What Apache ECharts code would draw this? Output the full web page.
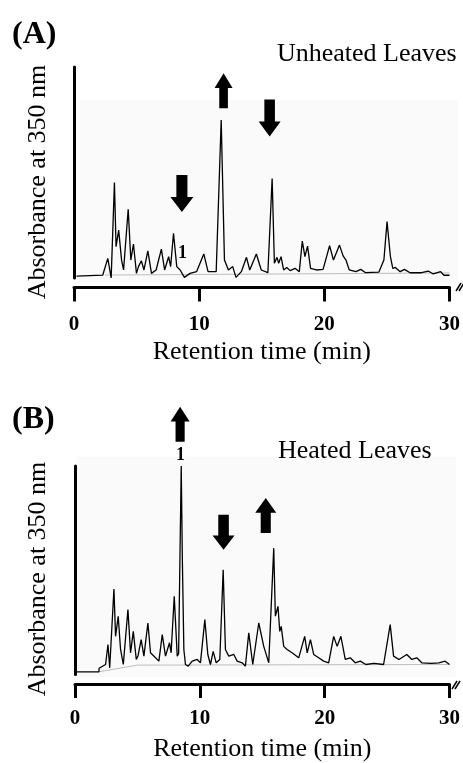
<!DOCTYPE html>
<html>
<head>
<meta charset="utf-8">
<script src="https://cdn.jsdelivr.net/npm/echarts@6/dist/echarts.min.js"></script>
<style>
html,body{margin:0;padding:0;background:#fff;}
#chart{width:463px;height:763px;}
</style>
</head>
<body>
<div id="chart"></div>
<script>
// ---- Data (time in min, absorbance in arbitrary units 0-100) ----
const xTicks = [0, 10, 20, 30];

// Panel A: Unheated Leaves
const timeA = [0.2, 2.3, 2.7, 2.97, 3.23, 3.36, 3.57, 3.8, 3.96, 4.33, 4.54, 4.75, 4.99, 5.15, 5.38, 5.59, 5.9, 6.19, 6.56, 6.98, 7.24, 7.56, 7.72, 7.95, 8.21, 8.48, 8.82, 9.27, 9.79, 10.37, 10.71, 11.36, 11.76, 12.02, 12.34, 12.68, 12.94, 13.37, 13.78, 14.04, 14.57, 14.96, 15.49, 15.83, 16.01, 16.22, 16.35, 16.54, 16.75, 17.0, 17.27, 17.66, 18.0, 18.24, 18.45, 18.66, 18.9, 19.37, 19.9, 20.42, 20.73, 21.21, 21.5, 21.73, 21.99, 22.52, 22.91, 23.3, 24.36, 24.76, 25.01, 25.28, 25.47, 25.67, 26.06, 26.4, 26.85, 27.77, 28.3, 28.7, 29.29, 29.55, 30.0];
const absA  = [0.9, 1.4, 9.3, 0.0, 45.2, 14.8, 22.7, 8.5, 3.8, 32.6, 8.5, 16.1, 2.2, 5.4, 8.2, 3.8, 12.9, 2.2, 3.8, 13.7, 3.8, 10.1, 5.4, 21.2, 5.4, 3.8, 0.3, 2.2, 3.0, 11.4, 3.0, 3.0, 74.9, 8.5, 3.8, 5.4, 0.3, 3.0, 9.8, 3.8, 11.4, 3.8, 2.5, 47.2, 7.0, 9.8, 7.0, 10.1, 3.8, 5.0, 3.5, 4.6, 3.0, 17.5, 10.1, 15.1, 4.6, 3.8, 4.1, 15.3, 8.5, 15.6, 10.5, 8.5, 3.8, 3.0, 4.1, 2.5, 2.8, 8.5, 26.7, 10.1, 4.6, 5.0, 3.0, 4.1, 2.5, 2.5, 3.3, 1.9, 3.0, 1.3, 1.3];
const baseTimeA = [2.5, 30];
const baseAbsA  = [1.4, 2.4];
const arrowTimeA = [8.62, 11.95, 15.63];
const arrowAbsA  = [40, 88.7, 75.8];
const arrowDirA  = ['down', 'up', 'down'];
const peakLabelA = {name: '1', time: 8.66, abs: 11.6};

// Panel B: Heated Leaves
const timeB = [0.16, 1.92, 1.93, 2.45, 2.64, 2.78, 3.12, 3.25, 3.46, 3.65, 3.87, 4.24, 4.45, 4.67, 4.91, 5.05, 5.3, 5.52, 5.84, 6.05, 6.45, 6.72, 6.99, 7.25, 7.57, 7.7, 7.95, 8.19, 8.3, 8.51, 8.6, 8.72, 8.85, 9.07, 9.39, 9.79, 10.05, 10.4, 10.64, 10.85, 11.07, 11.31, 11.6, 11.87, 12.05, 12.32, 12.72, 12.99, 13.39, 13.65, 13.92, 14.24, 14.72, 15.12, 15.52, 15.92, 16.05, 16.26, 16.4, 16.52, 16.72, 16.99, 17.39, 17.92, 18.4, 18.6, 18.86, 19.12, 19.52, 19.92, 20.32, 20.72, 21.0, 21.3, 21.65, 22.05, 22.45, 22.85, 23.3, 23.95, 24.72, 25.25, 25.52, 25.95, 26.58, 26.98, 27.38, 27.78, 28.55, 29.15, 29.65, 30.0];
const absB  = [1.3, 1.3, 3.0, 4.8, 14.4, 3.2, 41.0, 18.3, 27.9, 12.0, 4.8, 31.1, 10.4, 20.7, 7.2, 9.0, 16.7, 8.8, 24.7, 10.4, 8.0, 6.4, 19.1, 8.8, 15.2, 10.4, 37.5, 8.8, 10.0, 100, 55, 12.0, 4.8, 4.0, 6.4, 7.2, 5.6, 26.3, 9.6, 4.8, 11.1, 5.6, 7.2, 50.2, 12.0, 8.8, 9.6, 6.4, 5.6, 4.0, 20.0, 4.8, 24.7, 13.5, 5.6, 60.6, 28.0, 32.7, 20.7, 23.1, 13.5, 12.0, 10.4, 8.0, 18.3, 10.4, 16.7, 9.6, 8.0, 6.4, 5.6, 18.3, 13.5, 18.3, 7.2, 8.0, 5.6, 6.4, 4.8, 5.3, 4.8, 23.9, 8.8, 7.2, 9.6, 7.2, 8.0, 5.6, 5.3, 5.6, 6.4, 4.8];
const baseTimeB = [1.92, 5.0, 30];
const baseAbsB  = [1.3, 4.5, 4.8];
const arrowTimeB = [8.42, 11.9, 15.28];
const arrowAbsB  = [120, 68.2, 76.2];
const arrowDirB  = ['up', 'down', 'up'];
const peakLabelB = {name: '1', time: 8.45, abs: 104.9};

const panelTitles = ['(A)', '(B)'];
const sampleNames = ['Unheated Leaves', 'Heated Leaves'];
const yTitle = 'Absorbance at 350 nm';
const xTitle = 'Retention time (min)';

// ---- helpers ----
const SERIF = '"Liberation Serif", "DejaVu Serif", serif';
const UP = 'path://M5 0 L10 4.2 L7.4 4.2 L7.4 10 L2.6 10 L2.6 4.2 L0 4.2 Z';
const DOWN = 'path://M2.6 0 L7.4 0 L7.4 5.9 L10 5.9 L5 10 L0 5.9 L2.6 5.9 Z';
const zip = (a, b) => a.map((v, i) => [v, b[i]]);

function xAxisFor(idx, margin) {
  return {
    gridIndex: idx, type: 'value', min: 0, max: 30, interval: 10, offset: 9.5,
    axisLine: {show: true, onZero: false, lineStyle: {color: '#000', width: 3}},
    axisTick: {show: true, length: 14, lineStyle: {color: '#000', width: 3}},
    axisLabel: {margin: margin, color: '#000', fontFamily: SERIF, fontWeight: 'bold', fontSize: 21,
      formatter: v => xTicks.includes(v) ? String(v) : ''},
    splitLine: {show: false},
    name: xTitle, nameLocation: 'middle', nameGap: 52,
    nameTextStyle: {color: '#000', fontFamily: SERIF, fontSize: 26}
  };
}
function yAxisFor(idx) {
  return {
    gridIndex: idx, type: 'value', min: 0, max: 100,
    axisLine: {show: true, onZero: false, lineStyle: {color: '#000', width: 3}},
    axisTick: {show: false}, axisLabel: {show: false}, splitLine: {show: false}
  };
}
function traceSeries(idx, t, v) {
  return {type: 'line', xAxisIndex: idx, yAxisIndex: idx, data: zip(t, v), showSymbol: false,
    symbol: 'none', lineStyle: {color: '#000', width: 1.3}, z: 3, silent: true};
}
function baseSeries(idx, t, v) {
  return {type: 'line', xAxisIndex: idx, yAxisIndex: idx, data: zip(t, v), showSymbol: false,
    symbol: 'none', lineStyle: {color: '#bdbdbd', width: 1}, z: 2, silent: true};
}
function arrowSeries(idx, t, v, dirs, sizes) {
  return {type: 'scatter', xAxisIndex: idx, yAxisIndex: idx, clip: false, z: 5, silent: true,
    data: t.map((x, i) => ({value: [x, v[i]], symbol: dirs[i] === 'up' ? UP : DOWN,
      symbolSize: sizes[i], itemStyle: {color: '#000', opacity: 1}})),
    itemStyle: {color: '#000', opacity: 1},
    symbolKeepAspect: false};
}
function labelSeries(idx, lab) {
  return {type: 'scatter', xAxisIndex: idx, yAxisIndex: idx, clip: false, z: 6, silent: true,
    symbolSize: 1, itemStyle: {color: 'rgba(0,0,0,0)', opacity: 1},
    data: [{value: [lab.time, lab.abs], name: lab.name}],
    label: {show: true, position: 'inside', formatter: '{b}', color: '#000', opacity: 1,
      fontFamily: SERIF, fontWeight: 'bold', fontSize: 18}};
}

const chart = echarts.init(document.getElementById('chart'), null, {renderer: 'canvas'});
chart.setOption({
  animation: false,
  backgroundColor: '#fff',
  grid: [
    {left: 74, top: 67, width: 381, height: 211},
    {left: 75, top: 466, width: 376, height: 209}
  ],
  xAxis: [xAxisFor(0, 27), xAxisFor(1, 24)],
  yAxis: [yAxisFor(0), yAxisFor(1)],
  graphic: [
    {type: 'rect', shape: {x: 80, y: 100, width: 378, height: 182}, style: {fill: '#fafafa'}, z: -10, silent: true},
    {type: 'rect', shape: {x: 77, y: 457, width: 379, height: 220}, style: {fill: '#fafafa'}, z: -10, silent: true},
    {type: 'text', x: 12, y: 35, style: {text: panelTitles[0], font: 'bold 32px ' + SERIF, fill: '#000', textVerticalAlign: 'middle'}},
    {type: 'text', x: 12, y: 420, style: {text: panelTitles[1], font: 'bold 32px ' + SERIF, fill: '#000', textVerticalAlign: 'middle'}},
    {type: 'text', x: 277, y: 54, style: {text: sampleNames[0], font: '26px ' + SERIF, fill: '#000', textVerticalAlign: 'middle'}},
    {type: 'text', x: 278, y: 451, style: {text: sampleNames[1], font: '26px ' + SERIF, fill: '#000', textVerticalAlign: 'middle'}},
    {type: 'text', x: 38, y: 182, rotation: Math.PI / 2, style: {text: yTitle, font: '26px ' + SERIF, fill: '#000', textAlign: 'center', textVerticalAlign: 'middle'}},
    {type: 'text', x: 38, y: 579, rotation: Math.PI / 2, style: {text: yTitle, font: '26px ' + SERIF, fill: '#000', textAlign: 'center', textVerticalAlign: 'middle'}},
    {type: 'line', shape: {x1: 456, y1: 291, x2: 461, y2: 283}, style: {stroke: '#000', lineWidth: 1.5}},
    {type: 'line', shape: {x1: 459, y1: 291, x2: 464, y2: 283}, style: {stroke: '#000', lineWidth: 1.5}},
    {type: 'line', shape: {x1: 452, y1: 689, x2: 457, y2: 681}, style: {stroke: '#000', lineWidth: 1.5}},
    {type: 'line', shape: {x1: 455, y1: 689, x2: 460, y2: 681}, style: {stroke: '#000', lineWidth: 1.5}}
  ],
  series: [
    baseSeries(0, baseTimeA, baseAbsA),
    traceSeries(0, timeA, absA),
    arrowSeries(0, arrowTimeA, arrowAbsA, arrowDirA, [[23, 37], [18, 35], [22, 37]]),
    labelSeries(0, peakLabelA),
    baseSeries(1, baseTimeB, baseAbsB),
    traceSeries(1, timeB, absB),
    arrowSeries(1, arrowTimeB, arrowAbsB, arrowDirB, [[19, 35], [22, 35], [21, 35]]),
    labelSeries(1, peakLabelB)
  ]
});
</script>
</body>
</html>
